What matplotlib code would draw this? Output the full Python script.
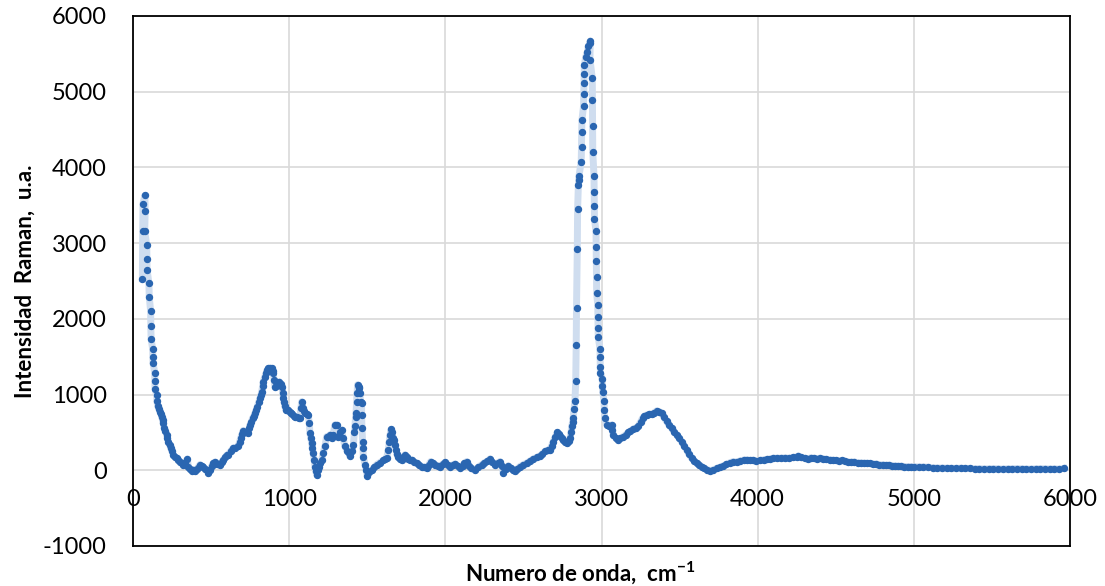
import numpy as np
import matplotlib
matplotlib.use('Agg')
import matplotlib.pyplot as plt

plt.rcParams['font.family'] = ['Lato', 'DejaVu Sans']
plt.rcParams['axes.unicode_minus'] = False
plt.rcParams['mathtext.fontset'] = 'custom'
plt.rcParams['mathtext.rm'] = 'Lato'
plt.rcParams['mathtext.bf'] = 'Lato:bold'

# --- spectrum, split by region ---
x_low = [60, 62, 64, 76, 78, 75, 88, 89, 90, 102,
         104, 113, 114, 116, 126, 127, 128, 139, 140, 141,
         152, 153, 158, 166, 173, 180, 184, 190, 194, 200,
         208, 216, 220, 226, 234, 241, 250, 258, 268, 280,
         290, 301, 312, 322, 335, 348, 354, 365, 376, 387,
         397, 410, 420, 429, 440, 450, 463, 476, 482, 495,
         505, 514, 525, 540, 557, 568, 578, 590, 600, 610,
         625, 642, 655, 674, 682, 689, 698, 706, 720, 738,
         745, 749, 758, 766, 775, 781, 790, 796, 805, 813,
         820, 824, 830, 834, 843, 852, 858, 866, 875, 888,
         895, 898, 903, 909, 915, 920, 930, 937, 945, 952,
         959, 963, 967, 972, 978, 987, 995]
y_low = [2530, 3160, 3520, 3630, 3420, 3160, 2970, 2790, 2650, 2470,
         2290, 2100, 1900, 1735, 1600, 1500, 1420, 1290, 1185, 1075,
         995, 915, 850, 810, 775, 740, 700, 660, 620, 560,
         520, 470, 430, 380, 340, 295, 250, 205, 180, 160,
         140, 115, 95, 75, 100, 150, 50, 20, -5, 10,
         -15, 20, 50, 75, 55, 40, 20, 5, -30, 10,
         60, 95, 110, 85, 75, 110, 140, 170, 200, 205,
         250, 295, 300, 315, 370, 425, 480, 525, 510, 490,
         560, 600, 640, 690, 720, 755, 800, 840, 900, 950,
         1000, 1040, 1110, 1170, 1230, 1280, 1320, 1345, 1350, 1345,
         1310, 1280, 1195, 1100, 1110, 1130, 1150, 1170, 1140, 1105,
         1020, 960, 905, 850, 800, 790, 795]

x_finger = [1003, 1010, 1020, 1030, 1037, 1050, 1060, 1069, 1075, 1080,
            1087, 1094, 1101, 1112, 1122, 1129, 1133, 1139, 1144, 1149,
            1154, 1160, 1165, 1170, 1176, 1185, 1193, 1200, 1208, 1218,
            1229, 1240, 1250, 1262, 1272, 1282, 1293, 1304, 1314, 1325,
            1336, 1346, 1357, 1370, 1380, 1389, 1400, 1411, 1418, 1421,
            1425, 1428, 1432, 1436, 1438, 1445, 1449, 1451, 1458, 1464,
            1464, 1466, 1470, 1472, 1475, 1486, 1493, 1500, 1514, 1528,
            1545, 1560, 1580, 1603, 1615, 1624, 1635, 1641, 1646, 1652,
            1658, 1665, 1671, 1678, 1684, 1690, 1699, 1710, 1721, 1730,
            1741, 1752, 1763, 1775, 1784, 1800, 1816, 1832, 1848, 1864,
            1880, 1893, 1906, 1920, 1933, 1950, 1966, 1982, 1998, 2014,
            2030, 2046, 2062, 2078, 2094, 2110, 2120, 2137]
y_finger = [770, 755, 740, 720, 710, 700, 690, 690, 820, 905,
            820, 780, 755, 745, 730, 620, 490, 420, 360, 290,
            230, 140, 50, -10, -60, 0, 50, 90, 140, 230,
            315, 445, 445, 470, 420, 470, 600, 600, 445, 510,
            535, 420, 315, 260, 230, 185, 250, 335, 500, 580,
            700, 755, 900, 1020, 1130, 1105, 1085, 1025, 900, 885,
            730, 560, 380, 290, 180, 75, 0, -75, -20, 5,
            40, 75, 100, 130, 150, 160, 270, 380, 470, 540,
            500, 430, 400, 330, 270, 210, 175, 150, 140, 170,
            205, 170, 150, 140, 140, 110, 95, 70, 50, 40,
            30, 70, 115, 95, 75, 60, 50, 80, 105, 75,
            50, 70, 85, 60, 30, 60, 90, 115]

x_ch = [2150, 2165, 2190, 2210, 2233, 2250, 2270, 2286, 2300, 2318,
        2335, 2350, 2360, 2371, 2387, 2403, 2420, 2433, 2446, 2462,
        2478, 2500, 2521, 2540, 2563, 2585, 2606, 2622, 2638, 2655,
        2670, 2680, 2691, 2704, 2717, 2726, 2734, 2745, 2755, 2766,
        2777, 2790, 2798, 2805, 2809, 2815, 2819, 2824, 2830, 2835,
        2838, 2840, 2845, 2847, 2852, 2854, 2856, 2870, 2872, 2873,
        2875, 2885, 2887, 2888, 2889, 2890, 2899, 2910, 2916, 2924,
        2928, 2926, 2941, 2942, 2943, 2944, 2952, 2953, 2954, 2955,
        2965, 2966, 2967, 2968, 2969, 2976, 2977, 2978, 2979, 2990,
        2991, 2992, 2993, 3005, 3006, 3007, 3016, 3018, 3020, 3033,
        3045, 3054, 3065, 3070, 3075, 3090]
y_ch = [60, 25, 5, 40, 75, 100, 120, 150, 110, 75,
        95, 115, 60, -30, 20, 60, 30, 0, -15, 20,
        50, 75, 95, 120, 150, 170, 190, 220, 250, 265,
        270, 320, 380, 440, 500, 480, 455, 420, 395, 375,
        360, 390, 425, 500, 580, 640, 690, 805, 920, 1180,
        1650, 2140, 2920, 3445, 3770, 3830, 3890, 4075, 4265, 4470,
        4630, 4810, 4975, 5110, 5240, 5350, 5460, 5525, 5600, 5645,
        5670, 5425, 5180, 4895, 4545, 4205, 3890, 3680, 3495, 3315,
        3155, 2945, 2765, 2550, 2340, 2180, 2030, 1885, 1765, 1605,
        1490, 1370, 1290, 1205, 1115, 1040, 920, 800, 690, 600,
        590, 580, 600, 530, 470, 430]

x_high = [3107, 3120, 3139, 3155, 3171, 3185, 3203, 3220, 3235, 3250,
          3263, 3275, 3289, 3305, 3321, 3337, 3353, 3370, 3385, 3400,
          3417, 3433, 3449, 3465, 3481, 3497, 3513, 3530, 3545, 3560,
          3577, 3593, 3609, 3625, 3641, 3657, 3673, 3695, 3716, 3737,
          3759, 3780, 3800, 3822, 3844, 3866, 3888, 3910, 3930, 3950,
          3970, 3990, 4015, 4040, 4060, 4080, 4100, 4125, 4150, 4175,
          4200, 4225, 4250, 4260, 4275, 4300, 4320, 4340, 4360, 4380,
          4400, 4420, 4440, 4460, 4480, 4500, 4520, 4540, 4560, 4580,
          4600, 4620, 4640, 4660, 4680, 4700, 4720, 4740, 4760, 4780,
          4800, 4820, 4840, 4860, 4880, 4900, 4920, 4940, 4960, 4980,
          5000, 5030, 5060, 5090, 5120, 5150, 5180, 5210, 5240, 5270,
          5300, 5330, 5360, 5390, 5420, 5450, 5480, 5510, 5540, 5570,
          5600, 5630, 5660, 5690, 5720, 5750, 5780, 5810, 5840, 5870,
          5900, 5930, 5960]
y_high = [400, 420, 445, 470, 500, 520, 545, 560, 580, 640,
          690, 715, 730, 740, 745, 760, 785, 775, 755, 700,
          645, 600, 555, 510, 470, 425, 380, 320, 270, 215,
          160, 125, 95, 70, 50, 30, 10, -3, 5, 25,
          40, 60, 80, 100, 115, 110, 125, 135, 140, 130,
          135, 120, 130, 140, 145, 150, 160, 160, 160, 165,
          160, 170, 175, 190, 170, 160, 150, 165, 160, 155,
          160, 150, 145, 140, 135, 130, 125, 130, 120, 105,
          110, 110, 100, 100, 95, 95, 90, 80, 85, 70,
          75, 65, 70, 60, 60, 55, 55, 50, 50, 50,
          48, 45, 45, 40, 35, 30, 30, 28, 27, 25,
          28, 25, 25, 20, 22, 18, 20, 22, 20, 15,
          20, 20, 22, 20, 18, 15, 20, 22, 20, 18,
          20, 15, 25]

x_ticks = [0, 1000, 2000, 3000, 4000, 5000, 6000]
y_ticks = [-1000, 0, 1000, 2000, 3000, 4000, 5000, 6000]

wn = np.array(x_low + x_finger + x_ch + x_high)
inten = np.array(y_low + y_finger + y_ch + y_high)

fig = plt.figure(figsize=(11.05, 5.86), dpi=100)
ax = fig.add_axes([133 / 1105, 1 - 546 / 586, 937 / 1105, 530 / 586])

# light line behind, dots on top
ax.plot(wn, inten, color='#CFDDEF', lw=5, solid_joinstyle='round', zorder=2)
ax.plot(wn, inten, ls='none', marker='o', ms=4.3, mfc='#2A66B1', mec='#2A66B1', zorder=3)

ax.set_xlim(0, 6000)
ax.set_ylim(-1000, 6000)
ax.set_xticks(x_ticks)
ax.set_yticks(y_ticks)
ax.grid(True, color='#D9D9D9', lw=1.2, zorder=0)
ax.set_axisbelow(True)

for s in ax.spines.values():
    s.set_color('black')
    s.set_linewidth(1.3)

# x labels sit just under the zero line, like the excel chart
ax.tick_params(axis='x', length=0, pad=-41, labelsize=17)
ax.tick_params(axis='y', length=0, pad=19, labelsize=17)

ax.set_ylabel('Intensidad  Raman,  u.a.', fontsize=16, fontweight='bold', labelpad=5)
ax.set_xlabel(r'Numero de onda,  cm$^{\mathbf{-1}}$', fontsize=16, fontweight='bold')
ax.xaxis.set_label_coords(0.477, -0.025)

fig.savefig('out.png', dpi=100)
